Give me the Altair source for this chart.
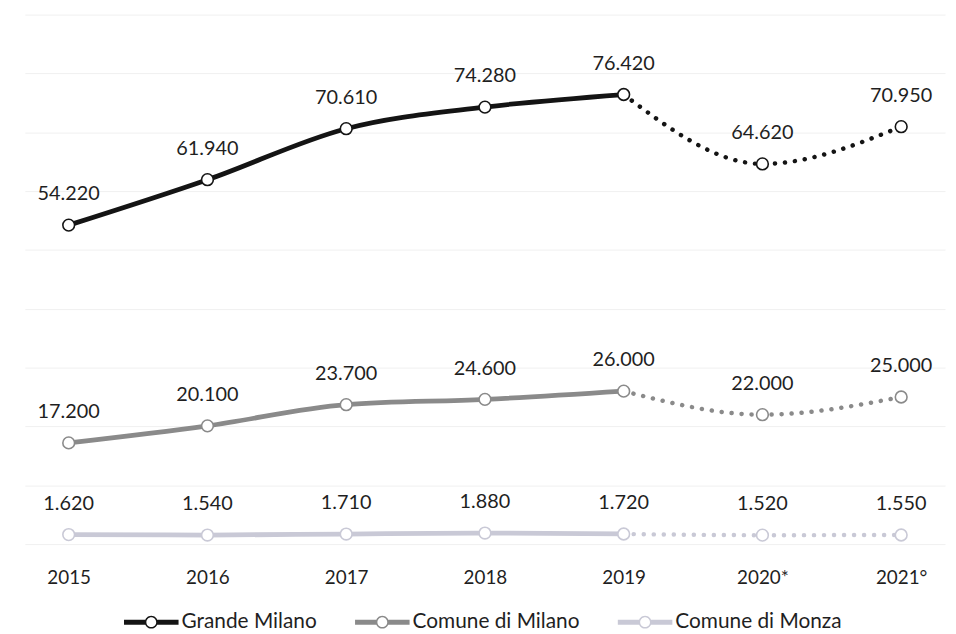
import altair as alt
import pandas as pd

years = ["2015", "2016", "2017", "2018", "2019", "2020*", "2021°"]
series = ["Grande Milano", "Comune di Milano", "Comune di Monza"]
grande_milano = [54220, 61940, 70610, 74280, 76420, 64620, 70950]
comune_milano = [17200, 20100, 23700, 24600, 26000, 22000, 25000]
comune_monza = [1620, 1540, 1710, 1880, 1720, 1520, 1550]
colors = ["#141414", "#8a8a8a", "#c9c9d6"]

rows = []
for name, vals in zip(series, [grande_milano, comune_milano, comune_monza]):
    for i, (y, v) in enumerate(zip(years, vals)):
        rows.append({"anno": y, "idx": i, "serie": name, "valore": v,
                     "etichetta": f"{v:,}".replace(",", ".")})
df = pd.DataFrame(rows)

FONT = "Lato"

legend_path = (
    "M-1,-0.09L-0.22,-0.09L-0.22,0.09L-1,0.09Z"
    "M0.22,-0.09L1,-0.09L1,0.09L0.22,0.09Z"
    "M0.236,0A0.236,0.236,0,1,1,-0.236,0A0.236,0.236,0,1,1,0.236,0Z"
    "M0.18,0A0.18,0.18,0,1,0,-0.18,0A0.18,0.18,0,1,0,0.18,0Z"
)

stroke = alt.Stroke(
    "serie:N",
    scale=alt.Scale(domain=series, range=colors),
    legend=None,
)
fill_legend = alt.Fill(
    "serie:N",
    scale=alt.Scale(domain=series, range=colors),
    sort=series,
    legend=alt.Legend(
        title=None,
        orient="none",
        direction="horizontal",
        legendX=100,
        legendY=585,
        symbolType=legend_path,
        symbolSize=3025,
        symbolStrokeWidth=0,
        symbolOpacity=1,
        labelFont=FONT,
        labelFontSize=21,
        labelColor="#1f1f1f",
        labelOffset=3,
        labelLimit=400,
        columnPadding=38,
    ),
)

x = alt.X(
    "anno:O",
    sort=years,
    scale=alt.Scale(type="point", padding=0.316),
    axis=alt.Axis(title=None, domain=False, ticks=False, labelAngle=0,
                  labelFont=FONT, labelFontSize=19, labelColor="#1f1f1f",
                  labelPadding=25),
)
y = alt.Y(
    "valore:Q",
    scale=alt.Scale(domain=[0, 90000], nice=False, zero=True),
    axis=alt.Axis(title=None, labels=False, ticks=False, domain=False,
                  values=list(range(0, 90001, 10000)),
                  gridColor="#f0f0f0", gridWidth=1),
)

base = alt.Chart(df)

legend_layer = base.mark_point(
    filled=True, size=4, opacity=1, strokeWidth=0
).encode(x=x, y=y, fill=fill_legend)

solid = base.transform_filter("datum.idx <= 4").mark_line(
    strokeWidth=4.8, interpolate="monotone", strokeCap="round"
).encode(x=x, y=y, stroke=stroke, detail="serie:N")

dotted = base.transform_filter("datum.idx >= 4").mark_line(
    strokeWidth=4.5, interpolate="monotone", strokeCap="round",
    strokeDash=[0.1, 10]
).encode(x=x, y=y, stroke=stroke, detail="serie:N")

points = base.mark_point(
    filled=False, fill="white", fillOpacity=1, size=140, strokeWidth=1.6, opacity=1
).encode(x=x, y=y, stroke=stroke)

labels = base.mark_text(
    font=FONT, fontSize=20, color="#1f1f1f", dy=-31, baseline="middle"
).encode(x=x, y=y, text="etichetta:N")

chart = alt.layer(legend_layer, solid, dotted, points, labels).properties(
    width=928,
    height=534,
    autosize=alt.AutoSizeParams(type="none"),
    padding={"left": 17, "top": 4, "right": 3, "bottom": 88},
    background="white",
).configure_view(stroke=None)

chart.save("out.html", embed_options={"renderer": "svg", "actions": False})
